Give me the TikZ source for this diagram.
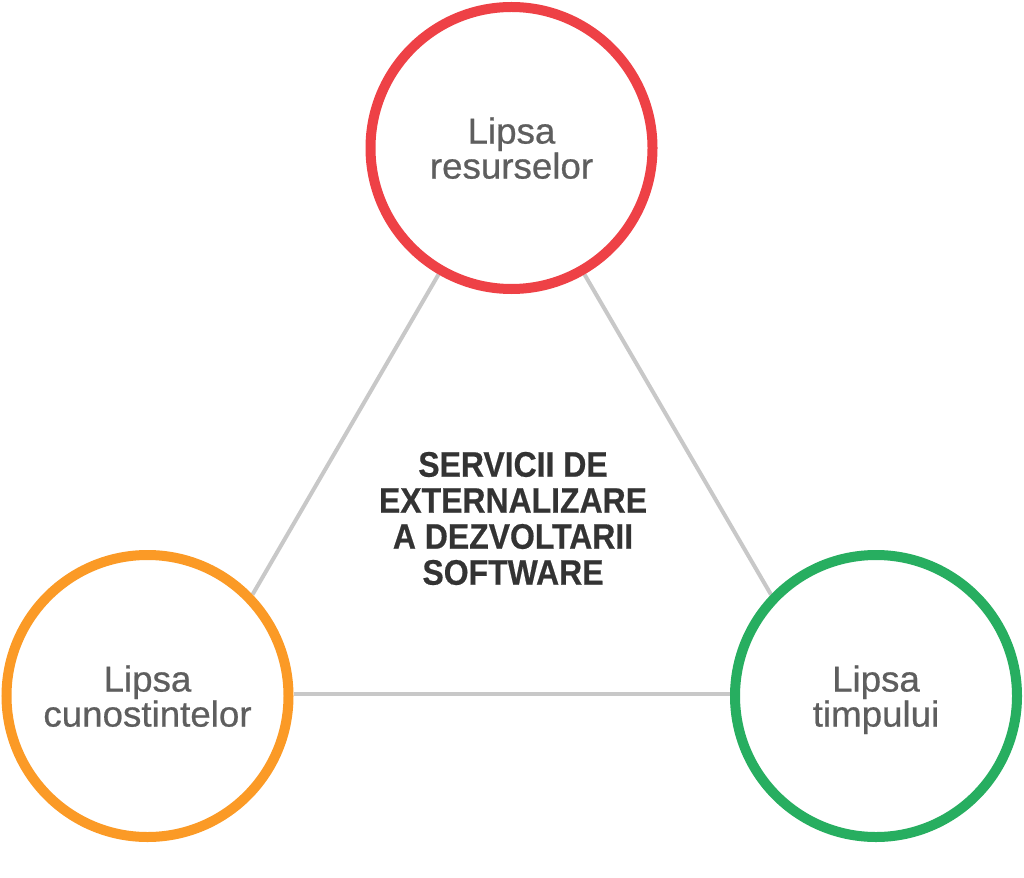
\documentclass[tikz,border=0pt]{standalone}
\usepackage{fontspec}
\setmainfont{Liberation Sans}
\newfontfamily\ringfont[FakeBold=0.6,FakeStretch=1.02]{Liberation Sans}
\newfontfamily\ctrfont[FakeStretch=0.9,FakeBold=0.5]{Liberation Sans Bold}
\usetikzlibrary{backgrounds}
\definecolor{cred}{HTML}{EE4146}
\definecolor{corange}{HTML}{FB9A26}
\definecolor{cgreen}{HTML}{27AE60}
\definecolor{clink}{HTML}{C8C8C8}
\definecolor{ctext}{HTML}{5E5E5E}
\definecolor{cdark}{HTML}{333333}
\tikzset{
  ring/.style={circle, draw=#1, line width=10pt, fill=white, minimum size=282pt, inner sep=0pt,
    align=center, text=ctext, font=\ringfont\fontsize{36}{35}\selectfont, text depth=0pt},
  link/.style={draw=clink, line width=4pt},
  title/.style={align=center, text=cdark, inner sep=0pt, font=\ctrfont\fontsize{35.5}{36}\selectfont}
}
\begin{document}
\begin{tikzpicture}[x=1pt,y=-1pt]
\useasboundingbox (0,0) rectangle (1024,877);
\node[ring=cred] (top) at (511.5,148) {Lipsa\\resurselor};
\node[ring=corange] (left) at (147.5,696) {Lipsa\\cunostintelor};
\node[ring=cgreen] (right) at (876,696) {Lipsa\\timpului};
\node[title] (center) at (513,518.5) {SERVICII DE\\EXTERNALIZARE\\A DEZVOLTARII\\SOFTWARE};
\begin{scope}[on background layer]
\draw[link] (top.240) -- (left.44);
\draw[link] (top.300) -- (right.136);
\draw[link] ([yshift=2]left.east) -- ([yshift=2]right.west);
\end{scope}
\end{tikzpicture}
\end{document}
